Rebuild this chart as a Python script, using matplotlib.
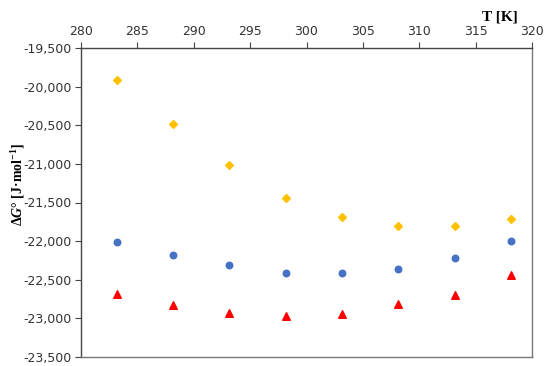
import matplotlib
matplotlib.use("Agg")
from matplotlib import pyplot as plt
from matplotlib.ticker import FuncFormatter, MultipleLocator

# temperatures (K)
T = [283.15, 288.15, 293.15, 298.15, 303.15, 308.15, 313.15, 318.15]
# delta G values for three series (J/mol)
dg_yellow = [-19910, -20480, -21010, -21440, -21690, -21810, -21810, -21715]
dg_blue = [-22010, -22180, -22310, -22413, -22413, -22365, -22223, -21995]
dg_red = [-22680, -22830, -22930, -22973, -22939, -22818, -22702, -22438]

plt.rcParams['mathtext.fontset'] = 'custom'
plt.rcParams['mathtext.rm'] = 'Liberation Serif:bold'
plt.rcParams['mathtext.it'] = 'Liberation Serif:italic:bold'
plt.rcParams['mathtext.bf'] = 'Liberation Serif:bold'

fig = plt.figure(figsize=(5.5, 3.66), dpi=100)
ax = fig.add_axes([81 / 550, 1 - 357 / 366, (532 - 81) / 550, (357 - 48) / 366])

ax.scatter(T, dg_yellow, marker='D', s=16, color='#FFC000', zorder=3)
ax.scatter(T, dg_blue, marker='o', s=22, color='#4472C4', zorder=3)
ax.scatter(T, dg_red, marker='^', s=30, color='#FF0000', zorder=3)

ax.set_xlim(280, 320)
ax.set_ylim(-23500, -19500)
ax.xaxis.set_major_locator(MultipleLocator(5))
ax.yaxis.set_major_locator(MultipleLocator(500))
ax.yaxis.set_major_formatter(FuncFormatter(lambda v, p: f"{v:,.0f}"))

ax.xaxis.tick_top()
ax.tick_params(axis='both', labelsize=9, length=4, width=0.8, color='#444444',
               labelcolor='#333333', pad=3)

for side in ['top', 'left']:
    ax.spines[side].set_color('#444444')
    ax.spines[side].set_linewidth(1.0)
for side in ['right', 'bottom']:
    ax.spines[side].set_color('#777777')
    ax.spines[side].set_linewidth(1.0)

fig.text(18 / 550, 1 - 185 / 366, r'$\mathrm{\Delta}G\mathrm{°\ [J·mol^{-1}]}$',
         fontsize=10, rotation=90, ha='center', va='center')
fig.text(500 / 550, 1 - 17 / 366, 'T [K]', fontfamily='Liberation Serif',
         fontweight='bold', fontsize=11, ha='center', va='center')

fig.savefig('out.png', dpi=100)
